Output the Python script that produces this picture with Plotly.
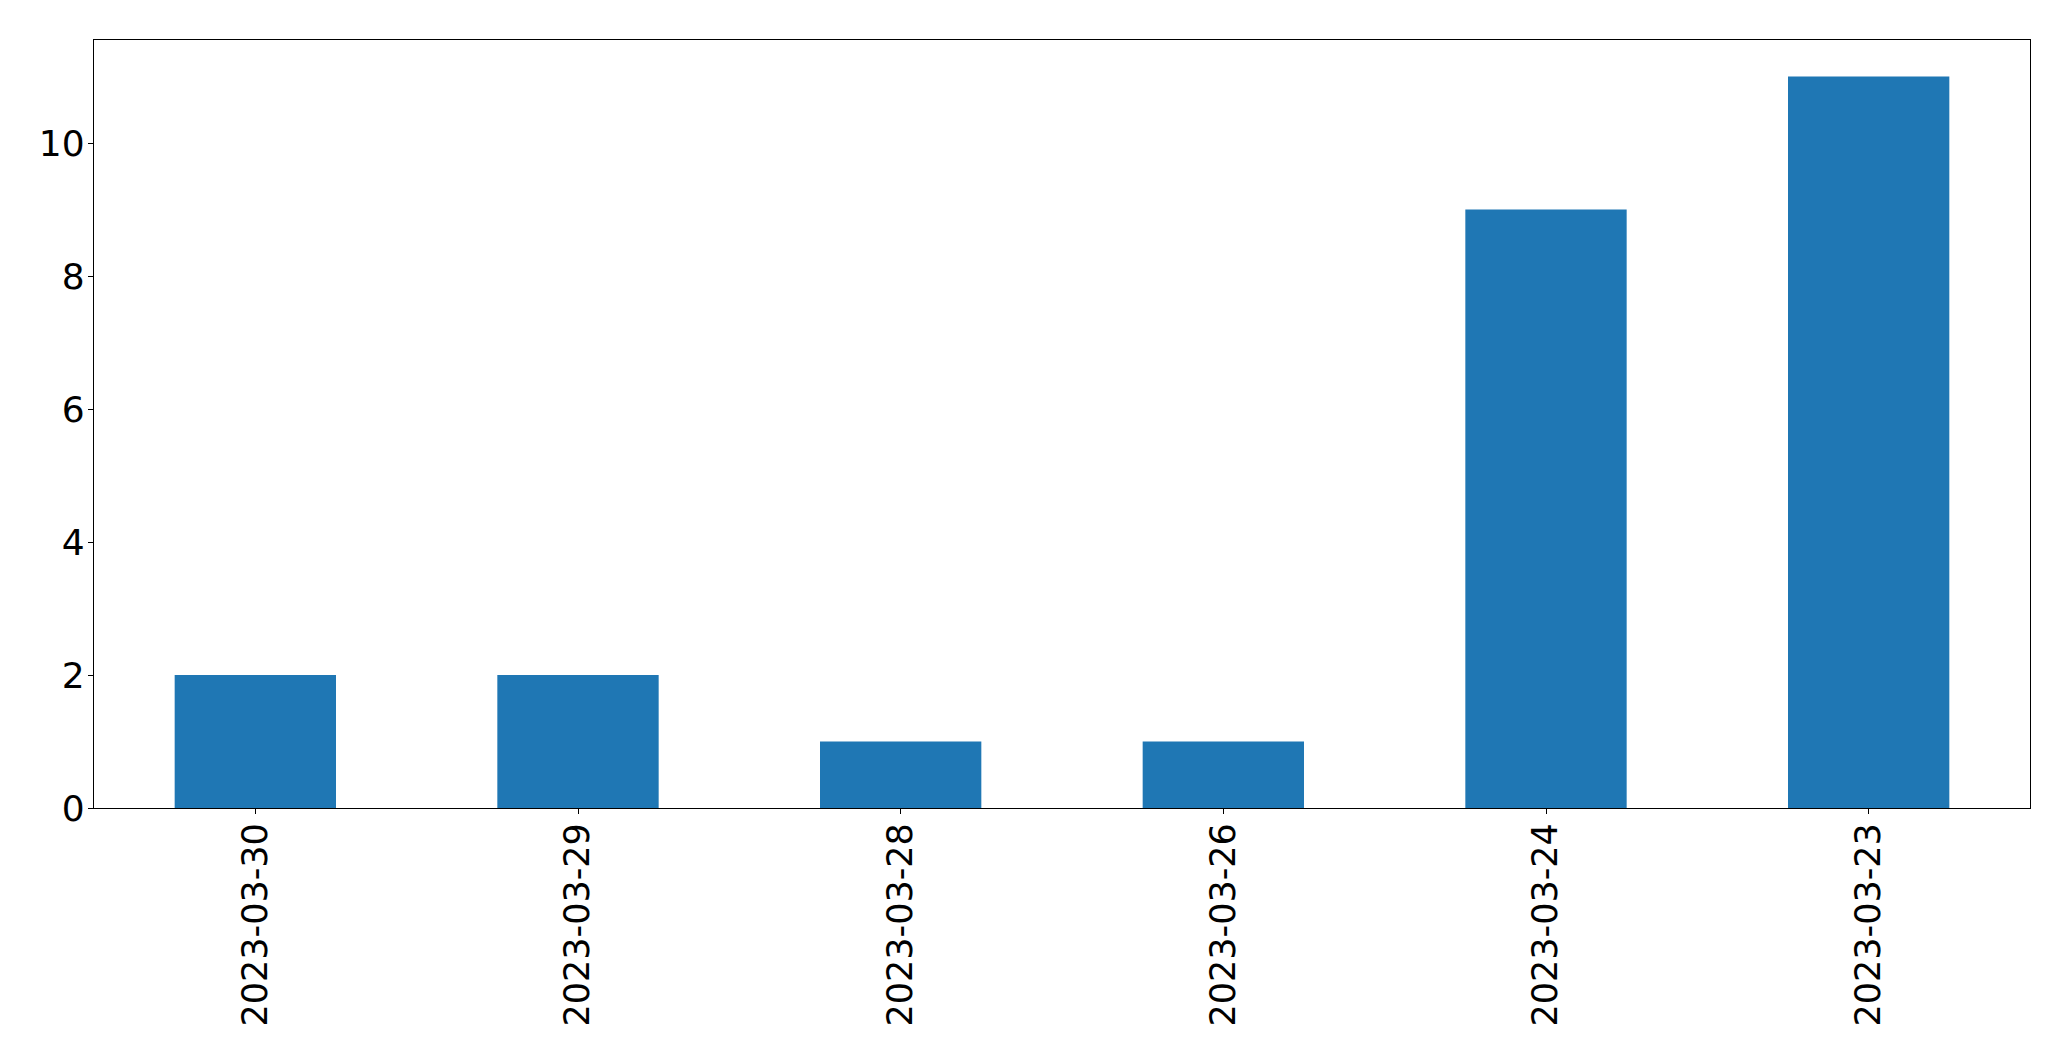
import plotly.graph_objects as go

dates = ["2023-03-30", "2023-03-29", "2023-03-28", "2023-03-26", "2023-03-24", "2023-03-23"]
counts = [2, 2, 1, 1, 9, 11]
y_ticks = [0, 2, 4, 6, 8, 10]

fig = go.Figure(
    go.Bar(
        x=dates,
        y=counts,
        width=0.5,
        marker=dict(color="#1f77b4", line=dict(width=0)),
    )
)

fig.update_layout(
    width=2071,
    height=1061,
    margin=dict(l=86, r=49, t=32, b=261),
    paper_bgcolor="white",
    plot_bgcolor="white",
    showlegend=False,
    font=dict(family="DejaVu Sans", size=35, color="black"),
)

fig.update_xaxes(
    type="category",
    range=[-0.5, 5.5],
    tickangle=-90,
    showline=True,
    linecolor="black",
    linewidth=1.3,
    mirror=True,
    ticks="outside",
    ticklen=5,
    tickwidth=1.3,
    tickcolor="black",
    showgrid=False,
    zeroline=False,
    ticklabelstandoff=-5,
    tickfont=dict(family="DejaVu Sans", size=35, color="black"),
)

fig.update_yaxes(
    range=[0, 11.55],
    tickvals=y_ticks,
    ticktext=[str(v) for v in y_ticks],
    showline=True,
    linecolor="black",
    linewidth=1.3,
    mirror=True,
    ticks="outside",
    ticklen=5,
    tickwidth=1.3,
    tickcolor="black",
    showgrid=False,
    zeroline=False,
    ticklabelstandoff=-4,
    tickfont=dict(family="DejaVu Sans", size=36, color="black"),
)

fig.write_html("out.html")
